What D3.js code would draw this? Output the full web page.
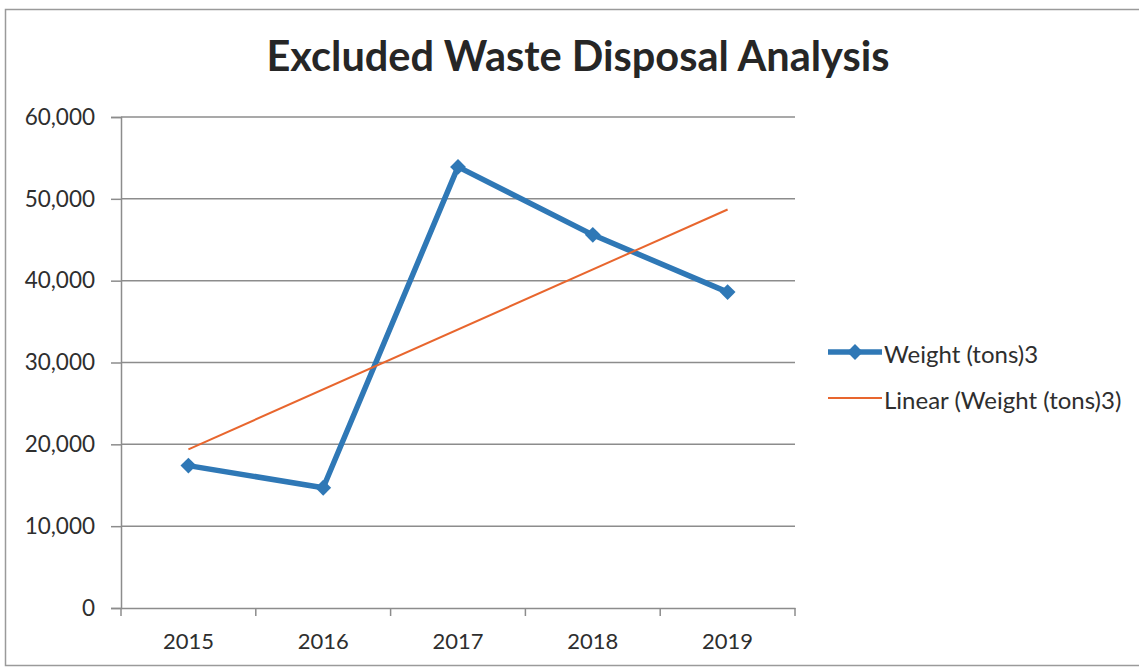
<!DOCTYPE html>
<html><head><meta charset="utf-8">
<script src="https://cdn.jsdelivr.net/npm/d3@7"></script>
<style>html,body{margin:0;padding:0;background:#fff;}svg{display:block;}</style>
</head><body>
<svg id="c" width="1139" height="670"></svg>
<script>
const title = "Excluded Waste Disposal Analysis";
const years = ["2015", "2016", "2017", "2018", "2019"];
const weights = [17400, 14700, 53900, 45600, 38600];
const yTicks = [0, 10000, 20000, 30000, 40000, 50000, 60000];
const seriesName = "Weight (tons)3";
const trendName = "Linear (Weight (tons)3)";

const svg = d3.select("#c");
const W = 1139, H = 670;
const m = {left: 121, right: 795, top: 117, bottom: 608};
const blue = "#2f78b6", orange = "#e8662e", grid = "#8c8c8c", txt = "#2e2e2e";
const font = "Lato, 'Open Sans', sans-serif";

svg.append("rect").attr("x", 5.5).attr("y", 9.5).attr("width", W + 10).attr("height", H - 14)
  .attr("fill", "#fff").attr("stroke", "#9a9a9a").attr("stroke-width", 1.5);

const x = d3.scaleBand().domain(years).range([m.left, m.right]);
const y = d3.scaleLinear().domain([0, 60000]).range([m.bottom, m.top]);

// gridlines
svg.append("g").selectAll("line").data(yTicks.filter(d => d > 0)).join("line")
  .attr("x1", m.left).attr("x2", m.right)
  .attr("y1", d => y(d)).attr("y2", d => y(d))
  .attr("stroke", grid).attr("stroke-width", 1.5);

// y axis
const yAxis = d3.axisLeft(y).tickValues(yTicks).tickFormat(d3.format(",")).tickSize(10).tickPadding(16);
const gy = svg.append("g").attr("transform", `translate(${m.left},0)`).call(yAxis);
gy.select(".domain").attr("stroke", grid).attr("stroke-width", 1.5);
gy.selectAll(".tick line").attr("stroke", grid).attr("stroke-width", 1.5);
gy.selectAll("text").attr("font-family", font).attr("font-size", 22.5).attr("fill", txt);

// x axis
const gx = svg.append("g").attr("transform", `translate(0,${m.bottom})`)
  .call(d3.axisBottom(x).tickSize(0).tickPadding(25));
gx.select(".domain").attr("stroke", grid).attr("stroke-width", 1.5);
gx.selectAll("text").attr("font-family", font).attr("font-size", 22).attr("fill", txt);
// category boundary ticks
const bounds = years.map(d => x(d)).concat([x(years[years.length - 1]) + x.bandwidth()]);
gx.append("g").selectAll("line").data(bounds).join("line")
  .attr("x1", d => d).attr("x2", d => d).attr("y1", 0).attr("y2", 8)
  .attr("stroke", grid).attr("stroke-width", 1.5);

// data
const pts = years.map((yr, i) => ({yr, v: weights[i]}));
const cx = d => x(d.yr) + x.bandwidth() / 2;

// linear trend (least squares on category index)
const n = weights.length;
const idx = weights.map((_, i) => i + 1);
const mx = d3.mean(idx), my = d3.mean(weights);
const slope = d3.sum(idx.map((v, i) => (v - mx) * (weights[i] - my))) / d3.sum(idx.map(v => (v - mx) ** 2));
const icpt = my - slope * mx;
const trend = [0, n - 1].map(i => ({yr: years[i], v: icpt + slope * (i + 1)}));

svg.append("path").datum(pts)
  .attr("d", d3.line().x(cx).y(d => y(d.v)))
  .attr("fill", "none").attr("stroke", blue).attr("stroke-width", 5.5).attr("stroke-linejoin", "round");

svg.append("path").datum(trend)
  .attr("d", d3.line().x(cx).y(d => y(d.v)))
  .attr("fill", "none").attr("stroke", orange).attr("stroke-width", 2);

const diamond = d3.symbol().type(d3.symbolDiamond2).size(160);
svg.append("g").selectAll("path").data(pts).join("path")
  .attr("d", diamond).attr("transform", d => `translate(${cx(d)},${y(d.v)})`)
  .attr("fill", blue);

// title
svg.append("text").attr("x", 578).attr("y", 71).attr("text-anchor", "middle")
  .attr("font-family", font).attr("font-weight", "bold").attr("font-size", 41.5).attr("fill", "#262626")
  .text(title);

// legend
const lg = svg.append("g");
lg.append("line").attr("x1", 828).attr("x2", 882).attr("y1", 352).attr("y2", 352)
  .attr("stroke", blue).attr("stroke-width", 5.5);
lg.append("path").attr("d", diamond).attr("transform", "translate(855,352)").attr("fill", blue);
lg.append("text").attr("x", 884).attr("y", 363).attr("font-family", font).attr("font-size", 24).attr("fill", txt).text(seriesName);
lg.append("line").attr("x1", 828).attr("x2", 882).attr("y1", 398).attr("y2", 398)
  .attr("stroke", orange).attr("stroke-width", 2);
lg.append("text").attr("x", 884).attr("y", 409).attr("font-family", font).attr("font-size", 24).attr("fill", txt).text(trendName);
</script>
</body></html>
